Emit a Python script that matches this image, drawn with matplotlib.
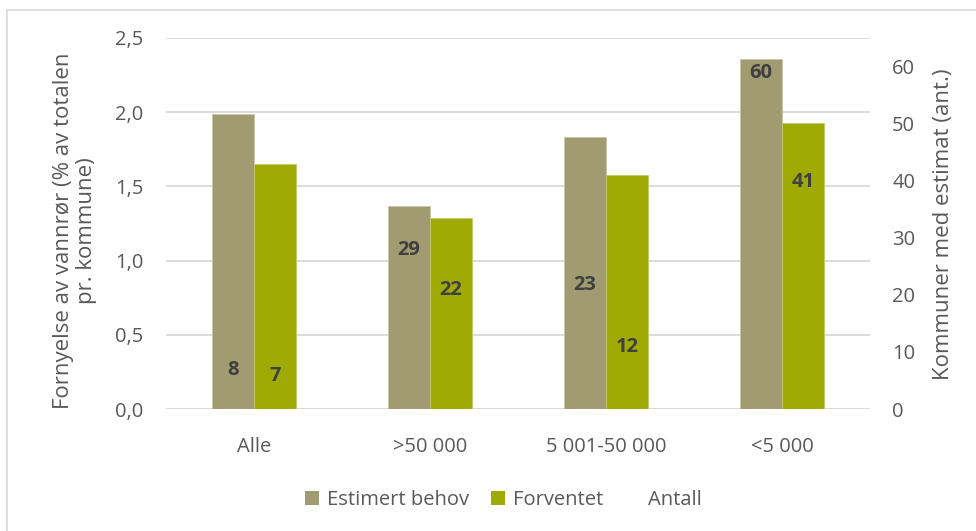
import matplotlib
matplotlib.use("Agg")
import matplotlib.pyplot as plt
from matplotlib.patches import Rectangle, Patch
from matplotlib.lines import Line2D
import numpy as np

categories = ["Alle", ">50 000", "5 001-50 000", "<5 000"]
estimert = [1.99, 1.37, 1.83, 2.36]
forventet = [1.65, 1.29, 1.58, 1.93]
antall_est = [8, 29, 23, 60]
antall_forv = [7, 22, 12, 41]
left_ticks = [0.0, 0.5, 1.0, 1.5, 2.0, 2.5]
right_ticks = [0, 10, 20, 30, 40, 50, 60]

c_est = "#a09b70"
c_forv = "#9fab04"
txt = "#595959"

plt.rcParams['font.family'] = ['Open Sans', 'DejaVu Sans']

fig = plt.figure(figsize=(9.76, 5.31), dpi=100)
fig.patches.append(Rectangle((7/976, -0.1), 1.2, 1 - 10/531 + 0.1, transform=fig.transFigure,
                             fill=False, edgecolor="#d9d9d9", linewidth=1.2))

ax = fig.add_axes([166/976, 1 - 409/531, (870-166)/976, (409-38)/531])
ax2 = ax.twinx()

x = np.arange(len(categories))
w = 0.24
ax.bar(x - w/2, estimert, w, color=c_est, edgecolor="#c9c6a8", linewidth=0.6, zorder=3)
ax.bar(x + w/2, forventet, w, color=c_forv, edgecolor="#c2cb6a", linewidth=0.6, zorder=3)

fs = 14.5
ax.set_xlim(-0.5, 3.5)
ax.set_ylim(0, 2.5)
ax.set_yticks(left_ticks)
ax.set_yticklabels([f"{v:.1f}".replace(".", ",") for v in left_ticks], color=txt, fontsize=fs)
ax.set_xticks(x)
ax.set_xticklabels(categories, color=txt, fontsize=fs)
ax.tick_params(axis="both", length=0)
ax.tick_params(axis="y", pad=16.5)
ax.tick_params(axis="x", pad=20)
ax.grid(axis="y", color="#d9d9d9", linewidth=1.3, zorder=0)
ax.set_axisbelow(True)
for s in ax.spines.values():
    s.set_visible(False)

ax2.set_ylim(0, 65)
ax2.set_yticks(right_ticks)
ax2.set_yticklabels([str(v) for v in right_ticks], color=txt, fontsize=fs)
ax2.tick_params(axis="y", length=0, pad=16)
for s in ax2.spines.values():
    s.set_visible(False)

fig.text(75/976, 1 - 231/531, "Fornyelse av vannrør (% av totalen\npr. kommune)",
         rotation=90, ha="center", va="center", multialignment="center",
         color=txt, fontsize=16, linespacing=1.15)
fig.text(943/976, 1 - 224/531, "Kommuner med estimat (ant.)",
         rotation=90, ha="center", va="center", color=txt, fontsize=16)

for xi, v in zip(x, antall_est):
    ax2.annotate(str(v), (xi - w/2, v), xytext=(0, -5), textcoords="offset points",
                 ha="center", va="center", fontsize=fs, fontweight="bold", color="#404040", zorder=5)
for xi, v in zip(x, antall_forv):
    ax2.annotate(str(v), (xi + w/2, v), xytext=(0, -5), textcoords="offset points",
                 ha="center", va="center", fontsize=fs, fontweight="bold", color="#404040", zorder=5)

handles = [Patch(facecolor=c_est, edgecolor="none"),
           Patch(facecolor=c_forv, edgecolor="none"),
           Line2D([], [], linestyle="none")]
leg = fig.legend(handles, ["Estimert behov", "Forventet", "Antall"], loc="center",
                 bbox_to_anchor=(503/976, 1 - 500/531), ncol=3, frameon=False,
                 fontsize=fs, handlelength=0.7, handleheight=0.7, handletextpad=0.4,
                 columnspacing=1.1, labelcolor=txt)

fig.savefig("out.png", dpi=100)
